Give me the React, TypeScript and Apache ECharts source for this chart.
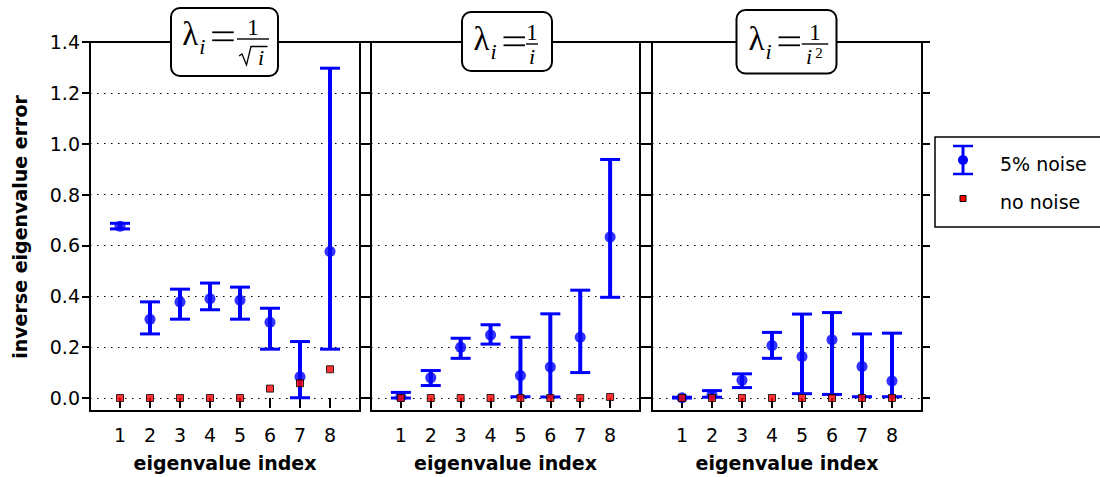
import React, { useEffect, useRef } from 'react';
import * as echarts from 'echarts';

// ---------- data ----------
const xCats = ['1', '2', '3', '4', '5', '6', '7', '8'];
const yMin = 0;
const yMax = 1.4;
const yStep = 0.2;

const p1Mean = [0.675, 0.31, 0.378, 0.39, 0.384, 0.298, 0.084, 0.576];
const p1Low = [0.665, 0.252, 0.31, 0.347, 0.31, 0.192, 0.001, 0.192];
const p1High = [0.687, 0.378, 0.428, 0.452, 0.436, 0.353, 0.222, 1.297];
const p1Clean = [0, 0, 0, 0, 0, 0.037, 0.058, 0.113];

const p2Mean = [0.005, 0.08, 0.2, 0.248, 0.088, 0.122, 0.239, 0.633];
const p2Low = [0.0, 0.049, 0.156, 0.212, 0.005, 0.004, 0.1, 0.396];
const p2High = [0.022, 0.108, 0.235, 0.288, 0.239, 0.331, 0.424, 0.938];
const p2Clean = [0, 0, 0, 0, 0, 0, 0, 0.004];

const p3Mean = [0.001, 0.012, 0.07, 0.206, 0.163, 0.229, 0.124, 0.067];
const p3Low = [0.0, 0.003, 0.041, 0.156, 0.017, 0.014, 0.005, 0.005];
const p3High = [0.003, 0.029, 0.095, 0.258, 0.33, 0.336, 0.252, 0.255];
const p3Clean = [0, 0, 0, 0, 0, 0, 0, 0];

const panels = [
  { mean: p1Mean, low: p1Low, high: p1High, clean: p1Clean },
  { mean: p2Mean, low: p2Low, high: p2High, clean: p2Clean },
  { mean: p3Mean, low: p3Low, high: p3High, clean: p3Clean },
];

const legendNoisy = '5% noise';
const legendClean = 'no noise';
const yName = 'inverse eigenvalue error';
const xName = 'eigenvalue index';

// ---------- layout ----------
const BLUE = '#0000ff';
const RED = '#ff0000';
const FONT = '"DejaVu Sans", sans-serif';
const SERIF = '"Liberation Serif", serif';
const gridBoxes = [
  { left: 90, width: 270 },
  { left: 371, width: 269 },
  { left: 652, width: 270 },
];
const GRID_TOP = 42;
const GRID_H = 356;
const FRAME_H = 369;
const axisCats = ['0', ...xCats, '9'];

const titleLayouts = [
  { box: [171, 8, 107, 68], x0: 181.7, b: 45, fb: [237, 269], den: 'sqrt' },
  { box: [462, 12, 90, 59], x0: 473, b: 50, fb: [526, 538], den: 'i' },
  { box: [736.5, 10, 100, 63.5], x0: 748, b: 50, fb: [801.7, 828.3], den: 'i2' },
];

function titleElements(t: any) {
  const z = 10;
  const { x0, b } = t;
  const els: any[] = [
    {
      type: 'rect', z,
      shape: { x: t.box[0], y: t.box[1], width: t.box[2], height: t.box[3], r: 9 },
      style: { fill: '#fff', stroke: '#000', lineWidth: 2 },
    },
    {
      type: 'text', z: z + 1, x: x0 + 8.5, y: b - 11.5,
      style: { text: 'λ', fontSize: 33, fontFamily: SERIF, fill: '#000', align: 'center', verticalAlign: 'middle' },
    },
    {
      type: 'text', z: z + 1, x: x0 + 20.5, y: b + 1,
      style: { text: 'i', fontSize: 22, fontStyle: 'italic', fontFamily: SERIF, fill: '#000', align: 'center', verticalAlign: 'middle' },
    },
    { type: 'line', z: z + 1, shape: { x1: x0 + 30.5, y1: b - 12.7, x2: x0 + 52, y2: b - 12.7 }, style: { stroke: '#000', lineWidth: 1.8 } },
    { type: 'line', z: z + 1, shape: { x1: x0 + 30.5, y1: b - 4.7, x2: x0 + 52, y2: b - 4.7 }, style: { stroke: '#000', lineWidth: 1.8 } },
    { type: 'line', z: z + 1, shape: { x1: t.fb[0], y1: b - 6, x2: t.fb[1], y2: b - 6 }, style: { stroke: '#000', lineWidth: 1.4 } },
    {
      type: 'text', z: z + 1, x: (t.fb[0] + t.fb[1]) / 2, y: b - 17.5,
      style: { text: '1', fontSize: 23, fontFamily: SERIF, fill: '#000', align: 'center', verticalAlign: 'middle' },
    },
  ];
  const cx = (t.fb[0] + t.fb[1]) / 2;
  if (t.den === 'sqrt') {
    els.push({
      type: 'polyline', z: z + 1,
      shape: { points: [[239, 56], [242, 54], [246.5, 65], [251, 46.5], [267.5, 46.5]] },
      style: { stroke: '#000', lineWidth: 1.3, fill: 'none' },
    });
    els.push({
      type: 'text', z: z + 1, x: 261, y: 57.5,
      style: { text: 'i', fontSize: 22, fontStyle: 'italic', fontFamily: SERIF, fill: '#000', align: 'center', verticalAlign: 'middle' },
    });
  } else if (t.den === 'i') {
    els.push({
      type: 'text', z: z + 1, x: cx, y: b + 6,
      style: { text: 'i', fontSize: 22, fontStyle: 'italic', fontFamily: SERIF, fill: '#000', align: 'center', verticalAlign: 'middle' },
    });
  } else {
    els.push({
      type: 'text', z: z + 1, x: 809, y: b + 6,
      style: { text: 'i', fontSize: 22, fontStyle: 'italic', fontFamily: SERIF, fill: '#000', align: 'center', verticalAlign: 'middle' },
    });
    els.push({
      type: 'text', z: z + 1, x: 819, y: b + 3,
      style: { text: '2', fontSize: 15, fontFamily: SERIF, fill: '#000', align: 'center', verticalAlign: 'middle' },
    });
  }
  return els;
}

const renderErr = (params: any, api: any) => {
  const xi = api.value(0);
  const lo = api.coord([xi, api.value(1)]);
  const hi = api.coord([xi, api.value(2)]);
  const hw = 10;
  return {
    type: 'group',
    children: [
      { type: 'line', shape: { x1: lo[0], y1: lo[1], x2: hi[0], y2: hi[1] }, style: { stroke: BLUE, lineWidth: 4 } },
      { type: 'line', shape: { x1: hi[0] - hw, y1: hi[1], x2: hi[0] + hw, y2: hi[1] }, style: { stroke: BLUE, lineWidth: 3 } },
      { type: 'line', shape: { x1: lo[0] - hw, y1: lo[1], x2: lo[0] + hw, y2: lo[1] }, style: { stroke: BLUE, lineWidth: 3 } },
    ],
  };
};

export default function App() {
  const ref = useRef<HTMLDivElement>(null);
  useEffect(() => {
    const chart = echarts.init(ref.current!, null, { renderer: 'svg' });
    const grid: any[] = [];
    const xAxis: any[] = [];
    const yAxis: any[] = [];
    const series: any[] = [];
    const graphic: any[] = [];
    const tickStyle = { color: '#000', width: 2 };

    panels.forEach((p, i) => {
      const g = gridBoxes[i];
      grid.push({ left: g.left, top: GRID_TOP, width: g.width, height: GRID_H });
      xAxis.push({
        type: 'category', gridIndex: i, data: axisCats, boundaryGap: false, offset: 13,
        axisLine: { show: false },
        axisTick: { show: true, length: 10, interval: (idx: number) => idx > 0 && idx < axisCats.length - 1, lineStyle: tickStyle },
        axisLabel: {
          interval: (idx: number) => idx > 0 && idx < axisCats.length - 1,
          fontSize: 19, color: '#000', fontFamily: FONT, margin: 14,
        },
        splitLine: { show: false },
        name: xName, nameLocation: 'middle', nameGap: 42,
        nameTextStyle: { fontSize: 19, fontWeight: 'bold', color: '#000', fontFamily: FONT },
      });
      const yBase = {
        type: 'value', gridIndex: i, min: yMin, max: yMax, interval: yStep,
        axisLine: { show: false },
        axisTick: { show: true, length: 8, lineStyle: tickStyle },
      };
      yAxis.push({
        ...yBase, position: 'left',
        axisLabel: { show: i === 0, fontSize: 19, color: '#000', fontFamily: FONT, margin: 10, formatter: (v: number) => v.toFixed(1) },
        splitLine: { show: true, lineStyle: { color: '#000', type: [1.5, 5.5], width: 1.2 } },
      });
      yAxis.push({
        ...yBase, position: 'right',
        axisLabel: { show: false },
        splitLine: { show: false },
      });
      series.push({
        type: 'custom', name: legendNoisy, xAxisIndex: i, yAxisIndex: 2 * i,
        data: xCats.map((c, j) => [c, p.low[j], p.high[j]]),
        encode: { x: 0, y: [1, 2] },
        renderItem: renderErr,
      });
      series.push({
        type: 'scatter', name: legendNoisy, xAxisIndex: i, yAxisIndex: 2 * i,
        data: xCats.map((c, j) => [c, p.mean[j]]),
        symbol: 'circle', symbolSize: 11, itemStyle: { color: BLUE },
      });
      series.push({
        type: 'scatter', name: legendClean, xAxisIndex: i, yAxisIndex: 2 * i,
        data: xCats.map((c, j) => [c, p.clean[j]]),
        symbol: 'rect', symbolSize: 7, itemStyle: { color: RED, borderColor: '#000', borderWidth: 1 },
      });
      graphic.push({
        type: 'rect', z: 3,
        shape: { x: g.left, y: GRID_TOP, width: g.width, height: FRAME_H },
        style: { fill: 'none', stroke: '#000', lineWidth: 2 },
      });
      graphic.push(...titleElements(titleLayouts[i]));
    });

    // y axis label
    graphic.push({
      type: 'text', x: 20, y: 227, rotation: Math.PI / 2,
      style: { text: yName, fontSize: 19, fontWeight: 'bold', fontFamily: FONT, fill: '#000', align: 'center', verticalAlign: 'middle' },
    });

    // legend
    graphic.push(
      { type: 'rect', z: 5, shape: { x: 935, y: 137, width: 175, height: 90 }, style: { fill: '#fff', stroke: '#000', lineWidth: 1.5 } },
      { type: 'line', z: 6, shape: { x1: 963, y1: 146, x2: 963, y2: 174 }, style: { stroke: BLUE, lineWidth: 3 } },
      { type: 'line', z: 6, shape: { x1: 953, y1: 146, x2: 973, y2: 146 }, style: { stroke: BLUE, lineWidth: 2.5 } },
      { type: 'line', z: 6, shape: { x1: 953, y1: 174, x2: 973, y2: 174 }, style: { stroke: BLUE, lineWidth: 2.5 } },
      { type: 'circle', z: 6, shape: { cx: 963, cy: 160, r: 5 }, style: { fill: BLUE } },
      { type: 'rect', z: 6, shape: { x: 960, y: 195.5, width: 6, height: 6 }, style: { fill: RED, stroke: '#000', lineWidth: 1 } },
      { type: 'text', z: 6, x: 1000, y: 164, style: { text: legendNoisy, fontSize: 19, fontFamily: FONT, fill: '#000', align: 'left', verticalAlign: 'middle' } },
      { type: 'text', z: 6, x: 1000, y: 202, style: { text: legendClean, fontSize: 19, fontFamily: FONT, fill: '#000', align: 'left', verticalAlign: 'middle' } },
    );

    chart.setOption({
      animation: false,
      backgroundColor: '#fff',
      grid, xAxis, yAxis, series, graphic,
    });
    return () => chart.dispose();
  }, []);
  return <div ref={ref} style={{ position: 'absolute', left: 0, top: 0, width: 1100, height: 477 }} />;
}
